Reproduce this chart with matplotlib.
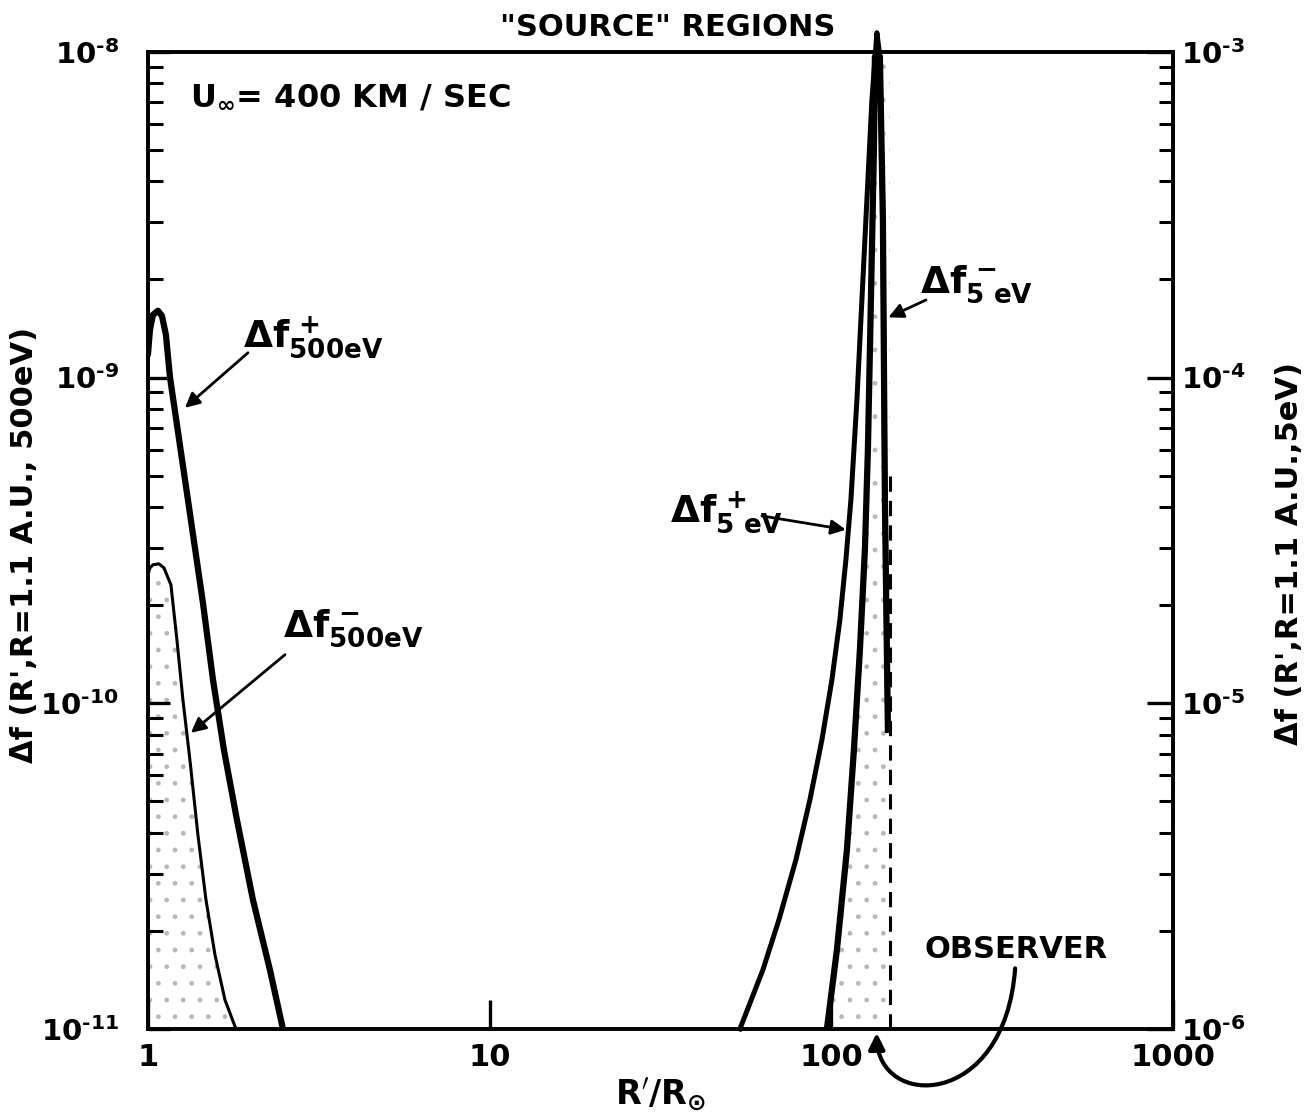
import matplotlib.pyplot as plt
from matplotlib.path import Path
from matplotlib.patches import FancyArrowPatch

plt.rcParams['font.family'] = ['DejaVu Sans']
plt.rcParams['font.weight'] = 'bold'
plt.rcParams['axes.labelweight'] = 'bold'
plt.rcParams['mathtext.fontset'] = 'dejavusans'
plt.rcParams['mathtext.default'] = 'bf'
plt.rcParams['hatch.linewidth'] = 1.0

# 500 eV curves (left scale)
r_plus_500 = [1.0, 1.0136, 1.0343, 1.0697, 1.0989, 1.1289, 1.1597, 1.3094,
              1.4487, 1.5502, 1.6689, 1.8218, 2.0292, 2.2752, 2.4838]
f_plus_500 = [1.174e-9, 1.401e-9, 1.558e-9, 1.603e-9, 1.547e-9, 1.352e-9,
              1.005e-9, 4.212e-10, 2.034e-10, 1.18e-10, 7.19e-11, 4.385e-11,
              2.491e-11, 1.519e-11, 1.0e-11]
r_minus_500 = [1.0, 1.0136, 1.0343, 1.0769, 1.1139, 1.1675, 1.2157, 1.2659,
               1.327, 1.4004, 1.4787, 1.5711, 1.6802, 1.8093]
f_minus_500 = [2.479e-10, 2.604e-10, 2.661e-10, 2.679e-10, 2.604e-10,
               2.31e-10, 1.566e-10, 1.024e-10, 6.70e-11, 3.944e-11, 2.491e-11,
               1.689e-11, 1.229e-11, 1.0e-11]

# 5 eV curves (right scale)
r_plus_5 = [54.02, 63.07, 70.25, 78.79, 86.57, 93.87, 100.41, 105.95, 110.35,
            114.13, 118.84, 122.91, 127.11, 131.48, 135.98, 138.76, 141.59,
            143.51, 146.44]
f_plus_5 = [1.0e-6, 1.519e-6, 2.162e-6, 3.306e-6, 5.051e-6, 7.72e-6, 1.18e-5,
            1.804e-5, 2.757e-5, 4.212e-5, 8.54e-5, 1.732e-4, 3.51e-4, 7.12e-4,
            1.144e-3, 9.653e-4, 3.049e-4, 4.212e-5, 8.287e-6]
r_minus_5 = [97.09, 103.85, 111.10, 116.46, 121.27, 125.41, 127.97, 129.72,
             131.48, 133.26, 134.16, 138.76, 141.59, 143.51, 146.44]
f_minus_5 = [1.0e-6, 1.749e-6, 3.547e-6, 7.19e-6, 1.459e-5, 2.958e-5, 6.0e-5,
             1.216e-4, 2.466e-4, 5.0e-4, 9.653e-4, 9.653e-4, 3.049e-4,
             4.212e-5, 8.287e-6]

# observer position (R = 1.1 A.U.)
r_obs = 148.4
f_obs_top = 5.2e-5

x_ticks = [1, 10, 100, 1000]
x_labels = ['1', '10', '100', '1000']
yl_ticks = [1e-11, 1e-10, 1e-9, 1e-8]
yl_labels = ['$10^{‐11}$', '$10^{‐10}$', '$10^{‐9}$', '$10^{‐8}$']
yr_ticks = [1e-6, 1e-5, 1e-4, 1e-3]
yr_labels = ['$10^{‐6}$', '$10^{‐5}$', '$10^{‐4}$', '$10^{‐3}$']

fig = plt.figure(figsize=(13.15, 11.16), dpi=100)
ax = fig.add_axes([0.1125, 0.078, 0.7795, 0.8756])
ax2 = ax.twinx()

ax.set_xscale('log')
ax.set_yscale('log')
ax2.set_yscale('log')
ax.set_xlim(1, 1000)
ax.set_ylim(1e-11, 1e-8)
ax2.set_ylim(1e-6, 1e-3)

# stippled regions
ax.fill_between(r_minus_500, f_minus_500, 1e-11, facecolor='none',
                edgecolor='0.72', hatch='.', linewidth=0)
ax2.fill_betweenx(f_minus_5[:11], r_minus_5[:11], r_obs, facecolor='none',
                  edgecolor='0.72', hatch='.', linewidth=0)

ax.plot(r_plus_500, f_plus_500, color='black', lw=4.5, solid_capstyle='round')
ax.plot(r_minus_500, f_minus_500, color='black', lw=2.2)
ax2.plot(r_plus_5, f_plus_5, color='black', lw=3.6, clip_on=False)
ax2.plot(r_minus_5, f_minus_5, color='black', lw=4.5)
ax2.plot([r_obs, r_obs], [1e-6, f_obs_top], color='black', lw=2.2,
         ls=(0, (5, 3)))

for a in (ax, ax2):
    for s in a.spines.values():
        s.set_linewidth(2.6)

ax.tick_params(axis='y', which='major', direction='in', length=16, width=2.4,
               pad=21, labelsize=21)
ax.tick_params(axis='y', which='minor', direction='in', length=11, width=2.2)
ax.tick_params(axis='x', which='major', direction='in', length=21, width=2.4,
               pad=10, labelsize=22)
ax.tick_params(axis='x', which='minor', length=0)
ax2.tick_params(axis='y', which='major', direction='in', length=19, width=2.4,
                pad=6, labelsize=21)
ax2.tick_params(axis='y', which='minor', direction='in', length=10, width=2.2)

ax.set_xticks(x_ticks)
ax.set_xticklabels(x_labels)
ax.set_yticks(yl_ticks)
ax.set_yticklabels(yl_labels)
ax2.set_yticks(yr_ticks)
ax2.set_yticklabels(yr_labels)

ax.set_xlabel(r"$R^{\prime}/R_{\odot}$", fontsize=24, labelpad=4)
ax.set_ylabel("Δf (R',R=1.1 A.U., 500eV)", fontsize=22)
ax.yaxis.set_label_coords(-0.106, 0.495)
ax2.set_ylabel("Δf (R',R=1.1 A.U.,5eV)", fontsize=22, rotation=90)
ax2.yaxis.set_label_coords(1.0995, 0.487)

fig.text(0.508, 0.975, '"SOURCE" REGIONS', fontsize=22, ha='center',
         va='center')
ax.text(0.041, 0.945, r'$U_{\infty}$= 400 KM / SEC', transform=ax.transAxes,
        fontsize=23, va='baseline')

arr = dict(arrowstyle='-|>', color='black', lw=2.0, mutation_scale=22,
           shrinkA=0, shrinkB=0)
ax.text(0.0927, 0.698, r'$\Delta f^{\,+}_{500eV}$', transform=ax.transAxes,
        fontsize=27, va='baseline')
ax.annotate('', xy=(1.283, 8.07e-10), xytext=(0.0976, 0.692),
            textcoords='axes fraction', arrowprops=arr)
ax.text(0.1317, 0.402, r'$\Delta f^{\,-}_{500eV}$', transform=ax.transAxes,
        fontsize=27, va='baseline')
ax.annotate('', xy=(1.336, 8.11e-11), xytext=(0.1337, 0.383),
            textcoords='axes fraction', arrowprops=arr)
ax.text(0.509, 0.519, r'$\Delta f^{\,+}_{5\ eV}$', transform=ax.transAxes,
        fontsize=27, va='baseline')
ax2.annotate('', xy=(110.3, 3.41e-5), xytext=(0.599, 0.525),
             textcoords='axes fraction', arrowprops=arr)
ax.text(0.753, 0.754, r'$\Delta f^{\,-}_{5\ eV}$', transform=ax.transAxes,
        fontsize=27, va='baseline')
ax2.annotate('', xy=(147.0, 1.53e-4), xytext=(0.759, 0.746),
             textcoords='axes fraction', arrowprops=arr)

ax.text(0.758, 0.073, 'OBSERVER', transform=ax.transAxes, fontsize=22,
        va='baseline')
obs_path = Path([(0.846, 0.062), (0.836, -0.083), (0.711, -0.083),
                 (0.711, -0.004)],
                [Path.MOVETO, Path.CURVE4, Path.CURVE4, Path.CURVE4])
ax.add_patch(FancyArrowPatch(path=obs_path, transform=ax.transAxes,
                             arrowstyle='-|>', mutation_scale=24,
                             color='black', lw=3.0, clip_on=False))

fig.savefig('out.png', dpi=100)
